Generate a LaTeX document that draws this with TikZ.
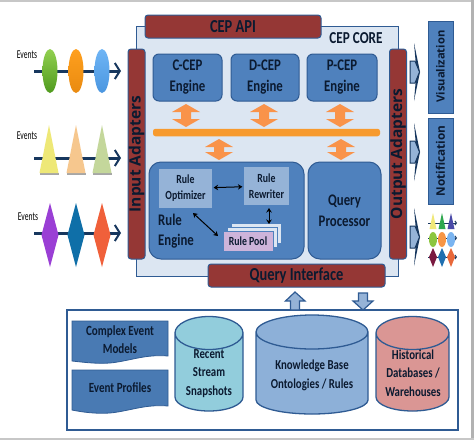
\documentclass[tikz,border=0pt]{standalone}
\usepackage{fontspec}
\setmainfont[FakeStretch=.79]{Carlito}
\newfontfamily\openf{Open Sans}
\usetikzlibrary{arrows.meta,calc}
\definecolor{edge}{HTML}{2F5B93}
\definecolor{navy}{HTML}{17375E}
\definecolor{brick}{HTML}{953735}
\definecolor{eng}{HTML}{4F81BD}
\definecolor{pale}{HTML}{DCE6F2}
\definecolor{mid}{HTML}{95B3D7}
\definecolor{orng}{HTML}{F9934A}
\definecolor{barcol}{HTML}{F79A2E}
\definecolor{txt}{HTML}{0B1A30}
\definecolor{cy1}{HTML}{92CDDC}
\definecolor{cy2}{HTML}{8DB0D8}
\definecolor{cy3}{HTML}{DA9694}
\definecolor{lilac}{HTML}{CDB4DA}
\tikzset{
 x=1pt,y=-1pt,
 box/.style={draw=edge,line width=1pt,anchor=center,inner sep=0pt,align=center,text=txt},
 redbar/.style={box,fill=brick,rounded corners=3pt,text=txt,font=\bfseries\fontsize{18.3}{19}\selectfont},
 engine/.style={box,fill=eng,rounded corners=6pt,font=\bfseries\fontsize{16.2}{21}\selectfont},
 rulebox/.style={box,draw=eng,fill=mid,line width=1.2pt,font=\bfseries\fontsize{12.4}{16}\selectfont},
 side/.style={box,fill=eng},
 sidetext/.style={rotate=90,font=\openf\bfseries\fontsize{#1}{13}\selectfont,text=txt,inner sep=0pt},
 adaptertext/.style={rotate=90,font=\openf\bfseries\fontsize{15.5}{17}\selectfont,text=txt,inner sep=0pt},
 stream/.style={draw=navy,line width=3pt,-{Straight Barb[length=5pt,width=16pt,line width=2pt]}},
 ministream/.style={draw=navy,line width=1pt,-{Straight Barb[length=1.5pt,width=4pt]}},
 evlabel/.style={font=\fontsize{12}{13}\selectfont,xscale=.8,text=black,inner sep=0pt},
 link/.style={draw=black,line width=1pt,{Stealth[length=4.5pt,width=5.5pt]}-{Stealth[length=4.5pt,width=5.5pt]}},
 store/.style={font=\bfseries\fontsize{13.7}{18.5}\selectfont,align=center,text=txt,inner sep=0pt},
 doc/.style={draw=edge,fill=eng!90!navy,line width=.8pt},
 updown/.style={draw=edge,fill=mid,line width=1.2pt},
}
% orange double arrow: x centre, y top, y bottom
\newcommand{\orngarr}[3]{%
 \fill[orng] (#1,#2) -- (#1+14,#2+8) -- (#1+5,#2+8) -- (#1+5,#3-8) -- (#1+14,#3-8) -- (#1,#3) -- (#1-14,#3-8) -- (#1-5,#3-8) -- (#1-5,#2+8) -- (#1-14,#2+8) -- cycle;
}
\newcommand{\cyl}[6]{% x1, x2, y1, y2, ry, colour
 \path[fill=#6,draw=edge,line width=1.3pt] (#1,#3) -- (#1,#4) arc[start angle=180,end angle=360,x radius={(#2-#1)/2},y radius=-14] -- (#2,#3) arc[start angle=0,end angle=360,x radius={(#2-#1)/2},y radius=-#5];
}
\begin{document}
\begin{tikzpicture}
\useasboundingbox (0,0) rectangle (474,440);
\fill[white] (0,0) rectangle (474,440);
\fill[black!22] (0,0) rectangle (474,2);
\fill[black!30] (471,0) rectangle (474,440);
\fill[black!22] (0,437.5) rectangle (474,440);

% core panel
\node[box,fill=pale,minimum width=262pt,minimum height=250pt] (core) at (267,151) {};
\node[redbar,minimum width=176pt,minimum height=23pt] (api) at (233,26.5) {CEP API};
\node[font=\bfseries\fontsize{16.7}{17}\selectfont,text=txt,inner sep=0pt] (corelabel) at (356,38.5) {CEP CORE};
\node[redbar,minimum width=17pt,minimum height=210pt] (input) at (136.5,154) {};
\node[adaptertext] (inputl) at (136.5,154) {Input Adapters};
\node[redbar,minimum width=17pt,minimum height=210pt] (output) at (398,154) {};
\node[adaptertext] (outputl) at (398,154) {Output Adapters};

\node[engine,minimum width=69pt,minimum height=47pt] (ccep) at (187.5,77.5) {C-CEP\\Engine};
\node[engine,minimum width=68pt,minimum height=47pt] (dcep) at (265,77.5) {D-CEP\\Engine};
\node[engine,minimum width=70pt,minimum height=47pt] (pcep) at (342,77.5) {P-CEP\\Engine};
\node[fill=barcol,rounded corners=2.5pt,minimum width=227pt,minimum height=7.5pt,inner sep=0pt] (bus) at (266.5,132.5) {};
\orngarr{186}{104}{127}
\orngarr{264}{104}{127}
\orngarr{340}{104}{127}
\orngarr{219}{139}{160}
\orngarr{341}{139}{160}

\node[engine,rounded corners=12pt,minimum width=155pt,minimum height=97pt] (rule) at (226.5,210.5) {};
\node[engine,rounded corners=12pt,minimum width=73pt,minimum height=97pt] (qp) at (344.5,210.5) {Query\\Processor};
\node[font=\bfseries\fontsize{16.2}{20}\selectfont,text=txt,align=left,inner sep=0pt,anchor=west] (rulel) at (158,231) {Rule\\Engine};
\node[rulebox,minimum width=55pt,minimum height=41pt] (opt) at (185.5,188.5) {Rule\\Optimizer};
\node[rulebox,minimum width=47pt,minimum height=40pt] (rew) at (266.5,186) {Rule\\Rewriter};
\node[box,draw=eng,fill=pale,minimum width=50pt,minimum height=20pt] (p3) at (256,233) {};
\node[box,draw=eng,fill=pale,minimum width=50pt,minimum height=20pt] (p2) at (252,237) {};
\node[box,draw=eng,fill=lilac,minimum width=50pt,minimum height=20pt,font=\bfseries\fontsize{12.4}{13}\selectfont] (pool) at (248,241) {Rule Pool};
\coordinate (optlow) at (193,213);
\coordinate (poolw) at (218,236);
\coordinate (rewlow) at (269,208);
\coordinate (pooltop) at (269,224);
\draw[link] (opt) -- (rew);
\draw[link] (optlow) -- (poolw);
\draw[link] (rewlow) -- (pooltop);

\node[redbar,minimum width=177pt,minimum height=23pt] (qi) at (296.5,275.5) {Query Interface};

% events
\foreach \y in {71,158,233}{
 \coordinate (s\y) at (34,\y); \coordinate (e\y) at (121,\y);
 \draw[stream] (s\y) -- (e\y);
}
\node[evlabel] (ev1) at (27,55) {Events};
\node[evlabel] (ev2) at (27,136) {Events};
\node[evlabel] (ev3) at (28,217) {Events};
\foreach \x/\c/\d in {50/92D050/4F9A1E,76/FFA01E/E98A10,102/6FB5F5/4A96E0}{
 \definecolor{t}{HTML}{\c}\definecolor{b}{HTML}{\d}
 \shade[top color=t,bottom color=b] (\x,71) ellipse[x radius=7.5,y radius=-22];
}
\foreach \x/\c in {49/EEE877,76/F6C78E,102/C4D79B}{
 \definecolor{t}{HTML}{\c}
 \fill[black!35] (\x-9.5,173) rectangle (\x+9.5,175);
 \fill[t] (\x,125) -- (\x+9.5,173) -- (\x-9.5,173) -- cycle;
}
\foreach \x/\c in {50/9A3FD5,76/0F6FA8,102/F0603A}{
 \definecolor{t}{HTML}{\c}
 \fill[t] (\x,203) -- (\x+8.5,235) -- (\x,267) -- (\x-8.5,235) -- cycle;
}

% outputs
\foreach \c in {72,152,237}{
 \fill[navy] (414,\c-29) -- (420,\c) -- (414,\c+29) -- (416.5,\c) -- cycle;
 \path[draw=navy,fill=mid,line width=1pt] (410,\c-11) -- (415,\c-11) -- (419.5,\c) -- (415,\c+11) -- (410,\c+11) -- cycle;
}
\node[side,minimum width=25pt,minimum height=92pt] (vis) at (440.5,67) {};
\node[sidetext=11.2] (visl) at (440.5,66.5) {Visualization};
\node[side,minimum width=25pt,minimum height=86pt] (noti) at (440.5,161) {};
\node[sidetext=11.8] (notil) at (440.5,161) {Notification};

% small icon streams
\foreach \y in {223,238,257}{\coordinate (ms\y) at (428,\y);\coordinate (me\y) at (457,\y);\draw[ministream] (ms\y)--(me\y);}
\foreach \x/\c in {433/F0E878,442/2FA84F,451/4A4AA8}{\definecolor{t}{HTML}{\c}\fill[t] (\x,213) -- (\x+3.5,229) -- (\x-3.5,229) -- cycle;}
\foreach \x/\c in {433/8CC63F,442/F79646,451/7AB4F0}{\definecolor{t}{HTML}{\c}\fill[t] (\x,239.5) ellipse[x radius=4,y radius=-7.5];}
\foreach \x/\c in {433/7A1A40,442/1F6FB0,451/E8683A}{\definecolor{t}{HTML}{\c}\fill[t] (\x,248) -- (\x+4,257) -- (\x,267) -- (\x-4,257) -- cycle;}

% storage
\node[box,fill=white,line width=1.3pt,minimum width=391pt,minimum height=120pt] (store) at (262.5,370) {};
\coordinate (upb) at (295,310); \coordinate (dnb) at (363,310);
\path[updown] (upb) ++(-4.5,0) -- ++(0,-9) -- ++(-5,0) -- (295,292) -- (305,301) -- (299.5,301) -- (299.5,310) -- cycle;
\path[updown] (358.5,293) -- (367.5,293) -- (367.5,301) -- (373,301) -- (dnb) -- (353,301) -- (358.5,301) -- cycle;

\path[doc] (72,321) -- (168,321) -- (168,356) .. controls (145,354) and (130,361) .. (110,363) .. controls (95,364) and (82,362) .. (72,361) -- cycle;
\path[doc] (72,370) -- (168,370) -- (168,406) .. controls (145,404) and (130,411) .. (110,413) .. controls (95,414) and (82,412) .. (72,410) -- cycle;
\node[store,font=\bfseries\fontsize{14}{18.5}\selectfont] (d1) at (120,339.5) {Complex Event\\Models};
\node[store,font=\bfseries\fontsize{14}{14}\selectfont] (d2) at (120,388) {Event Profiles};

\cyl{175}{243}{333}{397}{16.5}{cy1}
\cyl{256}{368}{332}{400}{17}{cy2}
\cyl{376}{449}{333}{397}{16.5}{cy3}
\node[store] (c1) at (209,373.5) {Recent\\Stream\\Snapshots};
\node[store] (c2) at (312,375.5) {Knowledge Base\\Ontologies / Rules};
\node[store] (c3) at (413,373) {Historical\\Databases /\\Warehouses};
\end{tikzpicture}
\end{document}
